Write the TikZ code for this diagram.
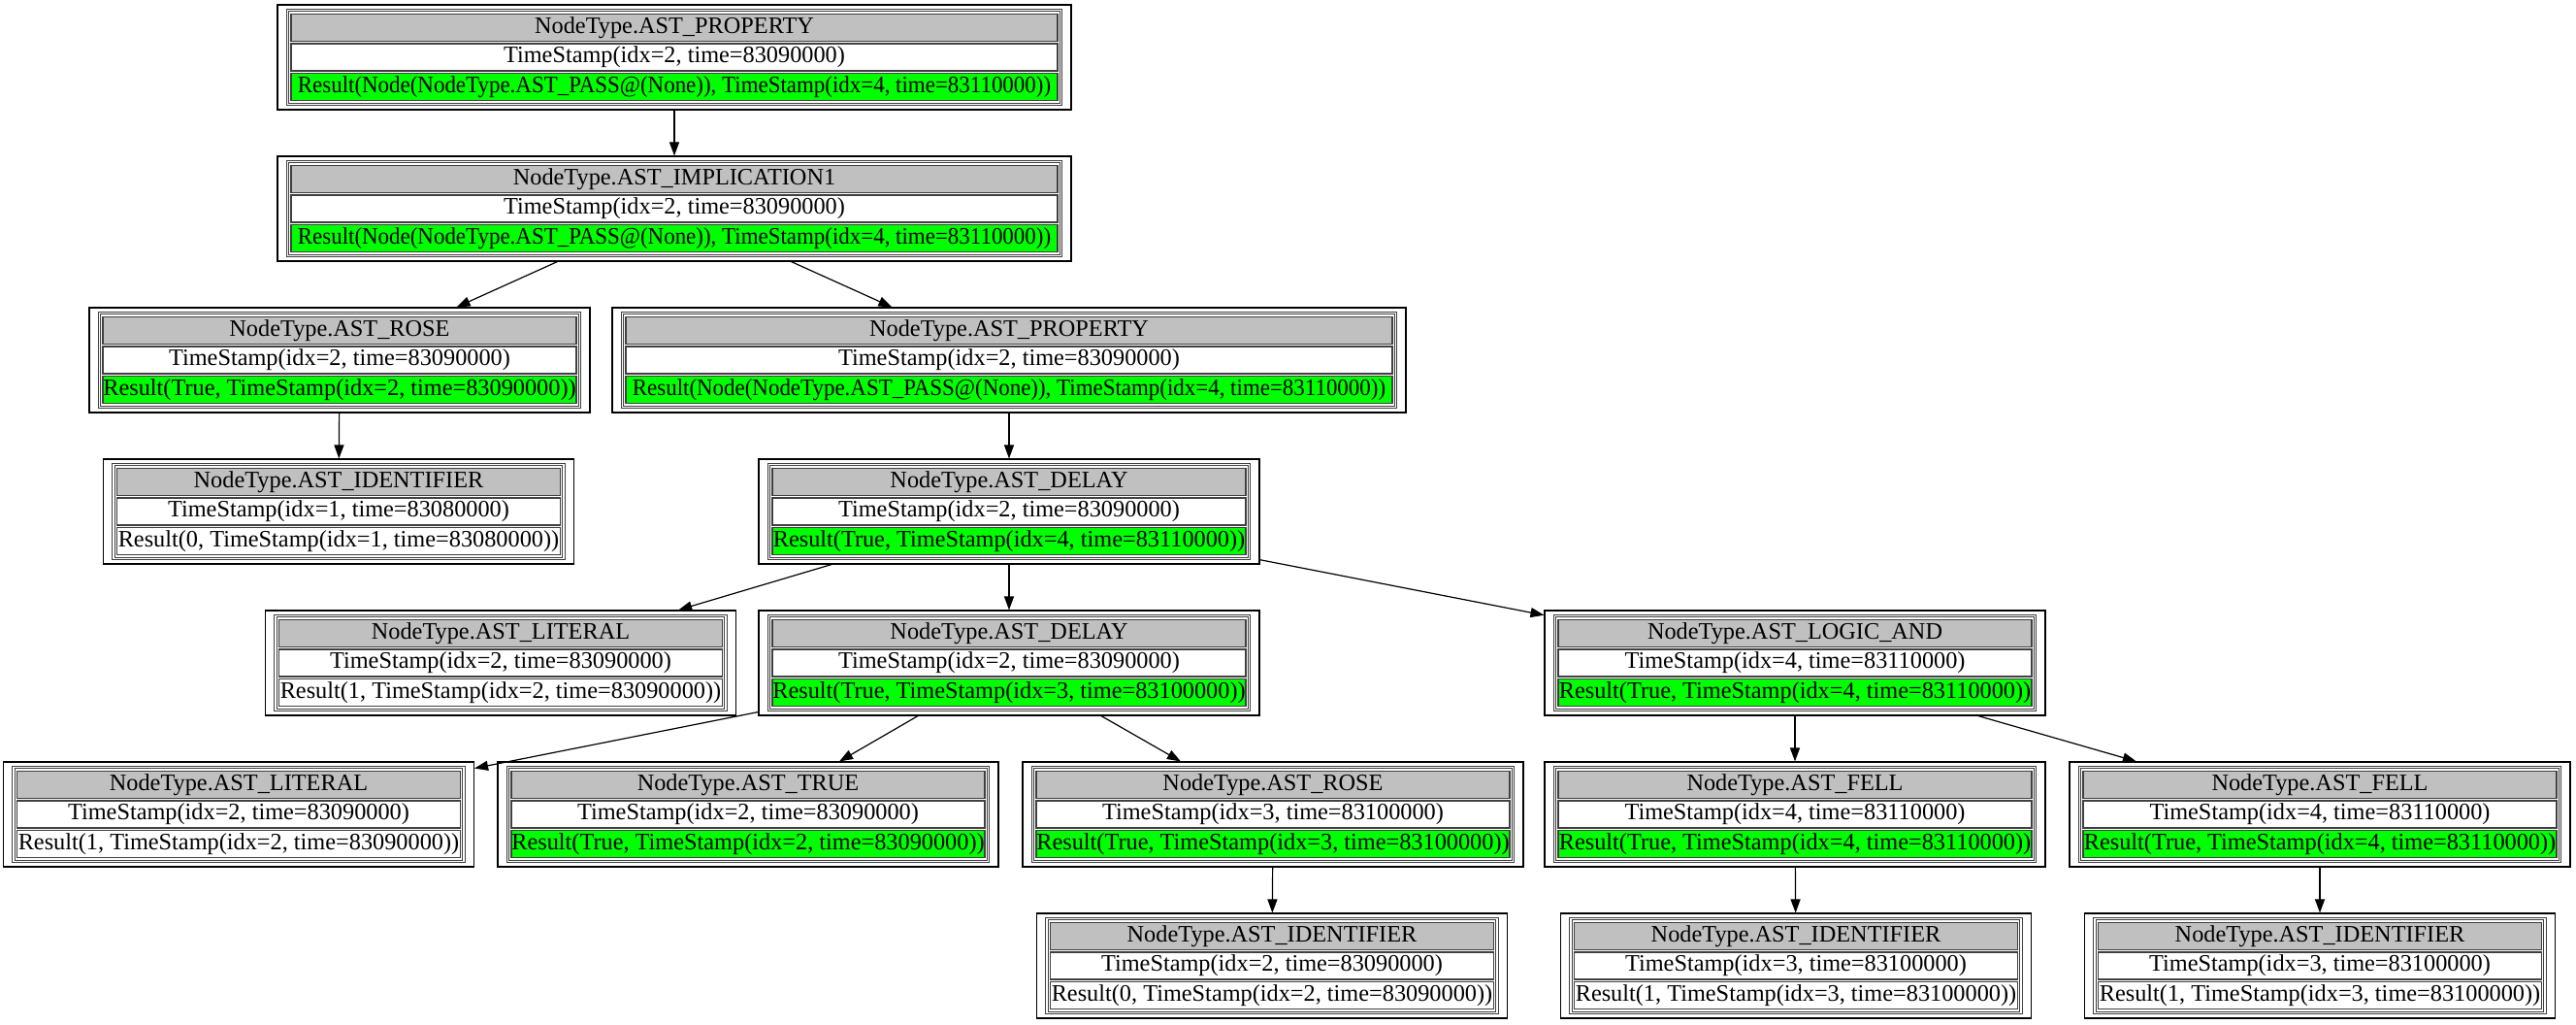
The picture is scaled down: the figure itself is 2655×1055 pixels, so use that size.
\documentclass[tikz,border=0pt]{standalone}
\usepackage{fontspec}
\setmainfont{Liberation Serif}
\usetikzlibrary{arrows.meta}
\definecolor{ResGreen}{HTML}{00FF00}
\definecolor{HeadGray}{HTML}{C0C0C0}
\definecolor{CellLine}{HTML}{404040}
\newcommand{\squeeze}[1]{\scalebox{0.944}[1]{#1}}
\tikzset{
  recbox/.style={draw=black,line width=1.1pt,rectangle,minimum height=108pt,inner sep=0pt},
  tabline/.style={draw=CellLine,line width=1pt},
  cell/.style={draw=CellLine,line width=1.5pt,rectangle,minimum height=28pt,inner sep=0pt,
    font=\fontsize{24.3}{29}\selectfont},
  edge/.style={-{Triangle[length=14pt,width=10pt]},line width=1.2pt}
}
\begin{document}
\begin{tikzpicture}[x=1pt,y=1pt]
  \useasboundingbox (0,0) rectangle (2655,-1055);
  \foreach \nm/\x/\y/\w/\head/\ts/\res/\col in {
    prop1/695/-59/818/{NodeType.AST\_PROPERTY}/{TimeStamp(idx=2, time=83090000)}/{\squeeze{Result(Node(NodeType.AST\_PASS@(None)), TimeStamp(idx=4, time=83110000))}}/ResGreen,
    impl/695/-215/818/{NodeType.AST\_IMPLICATION1}/{TimeStamp(idx=2, time=83090000)}/{\squeeze{Result(Node(NodeType.AST\_PASS@(None)), TimeStamp(idx=4, time=83110000))}}/ResGreen,
    rose1/350/-371/516/{NodeType.AST\_ROSE}/{TimeStamp(idx=2, time=83090000)}/{Result(True, TimeStamp(idx=2, time=83090000))}/ResGreen,
    prop2/1040/-371/818/{NodeType.AST\_PROPERTY}/{TimeStamp(idx=2, time=83090000)}/{\squeeze{Result(Node(NodeType.AST\_PASS@(None)), TimeStamp(idx=4, time=83110000))}}/ResGreen,
    ident1/349/-527/485/{NodeType.AST\_IDENTIFIER}/{TimeStamp(idx=1, time=83080000)}/{Result(0, TimeStamp(idx=1, time=83080000))}/white,
    delay1/1040/-527/516/{NodeType.AST\_DELAY}/{TimeStamp(idx=2, time=83090000)}/{Result(True, TimeStamp(idx=4, time=83110000))}/ResGreen,
    lit1/516/-683/485/{NodeType.AST\_LITERAL}/{TimeStamp(idx=2, time=83090000)}/{Result(1, TimeStamp(idx=2, time=83090000))}/white,
    delay2/1040/-683/516/{NodeType.AST\_DELAY}/{TimeStamp(idx=2, time=83090000)}/{Result(True, TimeStamp(idx=3, time=83100000))}/ResGreen,
    logand/1850/-683/516/{NodeType.AST\_LOGIC\_AND}/{TimeStamp(idx=4, time=83110000)}/{Result(True, TimeStamp(idx=4, time=83110000))}/ResGreen,
    lit2/246/-839/485/{NodeType.AST\_LITERAL}/{TimeStamp(idx=2, time=83090000)}/{Result(1, TimeStamp(idx=2, time=83090000))}/white,
    true/771/-839/516/{NodeType.AST\_TRUE}/{TimeStamp(idx=2, time=83090000)}/{Result(True, TimeStamp(idx=2, time=83090000))}/ResGreen,
    rose2/1312/-839/516/{NodeType.AST\_ROSE}/{TimeStamp(idx=3, time=83100000)}/{Result(True, TimeStamp(idx=3, time=83100000))}/ResGreen,
    fell1/1850/-839/516/{NodeType.AST\_FELL}/{TimeStamp(idx=4, time=83110000)}/{Result(True, TimeStamp(idx=4, time=83110000))}/ResGreen,
    fell2/2391/-839/516/{NodeType.AST\_FELL}/{TimeStamp(idx=4, time=83110000)}/{Result(True, TimeStamp(idx=4, time=83110000))}/ResGreen,
    ident2/1311/-995/485/{NodeType.AST\_IDENTIFIER}/{TimeStamp(idx=2, time=83090000)}/{Result(0, TimeStamp(idx=2, time=83090000))}/white,
    ident3/1851/-995/485/{NodeType.AST\_IDENTIFIER}/{TimeStamp(idx=3, time=83100000)}/{Result(1, TimeStamp(idx=3, time=83100000))}/white,
    ident4/2391/-995/485/{NodeType.AST\_IDENTIFIER}/{TimeStamp(idx=3, time=83100000)}/{Result(1, TimeStamp(idx=3, time=83100000))}/white}
  {
    \node[recbox,minimum width=\w] (\nm) at (\x,\y) {};
    \draw[tabline] ([shift={(10,-5)}]\nm.north west) rectangle ([shift={(-10,5)}]\nm.south east);
    \draw[tabline] ([shift={(12.5,-7.5)}]\nm.north west) rectangle ([shift={(-12.5,7.5)}]\nm.south east);
    \node[cell,fill=HeadGray,minimum width=\w-28] (\nm-head) at ([yshift=-24]\nm.north) {\head};
    \node[cell,fill=white,minimum width=\w-28] (\nm-ts) at (\nm.center) {\ts};
    \node[cell,fill=\col,minimum width=\w-28] (\nm-res) at ([yshift=24]\nm.south) {\res};
  }
  \foreach \a/\b in {prop1/impl, impl/rose1, impl/prop2, rose1/ident1, prop2/delay1,
    delay1/lit1, delay1/delay2, delay1/logand, delay2/lit2, delay2/true, delay2/rose2,
    logand/fell1, logand/fell2, rose2/ident2, fell1/ident3, fell2/ident4}
    \draw[edge] (\a) -- (\b);
\end{tikzpicture}
\end{document}
